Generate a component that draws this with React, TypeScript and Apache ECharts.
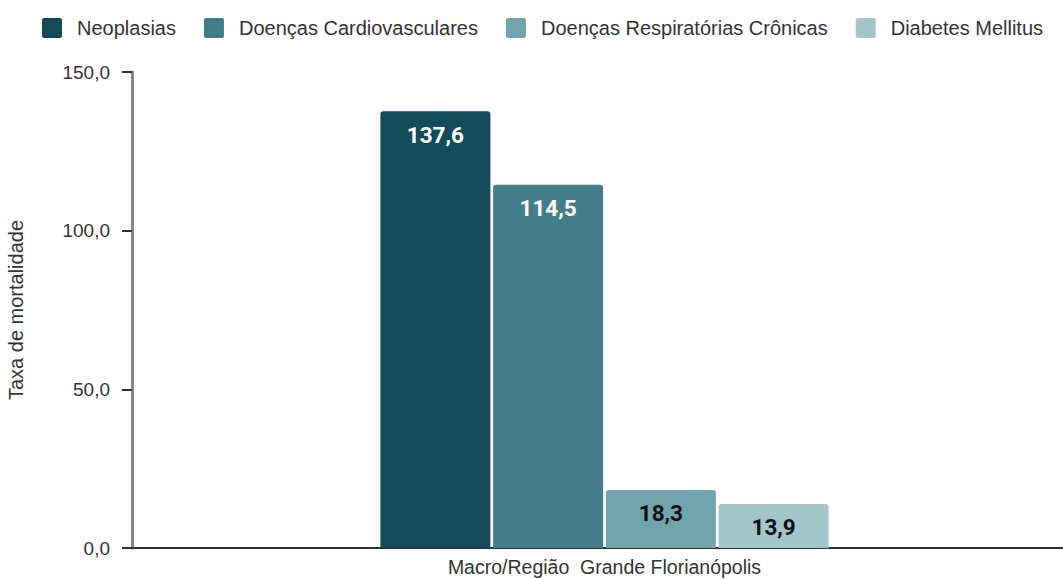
import React, { useEffect, useRef } from "react";
import * as echarts from "echarts";

const categories = ["Macro/Região  Grande Florianópolis"];
const seriesNames = ["Neoplasias", "Doenças Cardiovasculares", "Doenças Respiratórias Crônicas", "Diabetes Mellitus"];
const seriesValues = [[137.6], [114.5], [18.3], [13.9]];
const colors = ["#134b5a", "#437d8a", "#72a4ad", "#a3c6cb"];
const labelColors = ["#ffffff", "#ffffff", "#111111", "#111111"];

const FONT = "'Liberation Sans', Arial, sans-serif";

export default function App() {
  const ref = useRef<HTMLDivElement>(null);
  useEffect(() => {
    const chart = echarts.init(ref.current!, null, { renderer: "svg" });
    const fmt = (v: number) => v.toFixed(1).replace(".", ",");
    chart.setOption({
      animation: false,
      textStyle: { fontFamily: FONT },
      legend: {
        top: 18,
        left: 42,
        padding: 0,
        itemWidth: 20,
        itemHeight: 20,
        itemGap: 28,
        icon: "path://M2,0 L18,0 Q20,0 20,2 L20,18 Q20,20 18,20 L2,20 Q0,20 0,18 L0,2 Q0,0 2,0 Z",
        textStyle: { fontSize: 20, color: "#333", fontFamily: FONT, padding: [0, 0, 0, 10] },
        data: seriesNames,
      },
      grid: { left: 132, top: 72, bottom: 31, right: -14, outerBoundsMode: "none", containLabel: false },
      xAxis: {
        type: "category",
        data: categories,
        axisTick: { show: false },
        axisLine: { lineStyle: { color: "#333", width: 2 } },
        axisLabel: { fontSize: 19.5, color: "#333", margin: 9 },
      },
      yAxis: {
        type: "value",
        min: 0,
        max: 150,
        interval: 50,
        name: "Taxa de mortalidade",
        nameLocation: "middle",
        nameGap: 106,
        nameTextStyle: { fontSize: 20, color: "#333" },
        axisLine: { show: true, lineStyle: { color: "#888", width: 3 } },
        axisTick: { show: true, length: 10, lineStyle: { color: "#333", width: 2 } },
        splitLine: { show: false },
        axisLabel: { fontSize: 19, color: "#333", margin: 22, formatter: fmt },
      },
      series: seriesNames.map((name, i) => ({
        name,
        type: "bar",
        data: seriesValues[i],
        barWidth: 110,
        barGap: "2.5%",
        itemStyle: { color: colors[i], borderRadius: [3, 3, 0, 0] },
        label: {
          show: true,
          position: "insideTop",
          distance: 12,
          fontSize: 22.5,
          fontFamily: "Roboto",
          fontWeight: "bold",
          color: labelColors[i],
          formatter: (p: any) => fmt(p.value),
        },
      })),
    });
    return () => chart.dispose();
  }, []);
  return <div ref={ref} style={{ width: 1063, height: 579, position: "absolute", left: 0, top: 0 }} />;
}
